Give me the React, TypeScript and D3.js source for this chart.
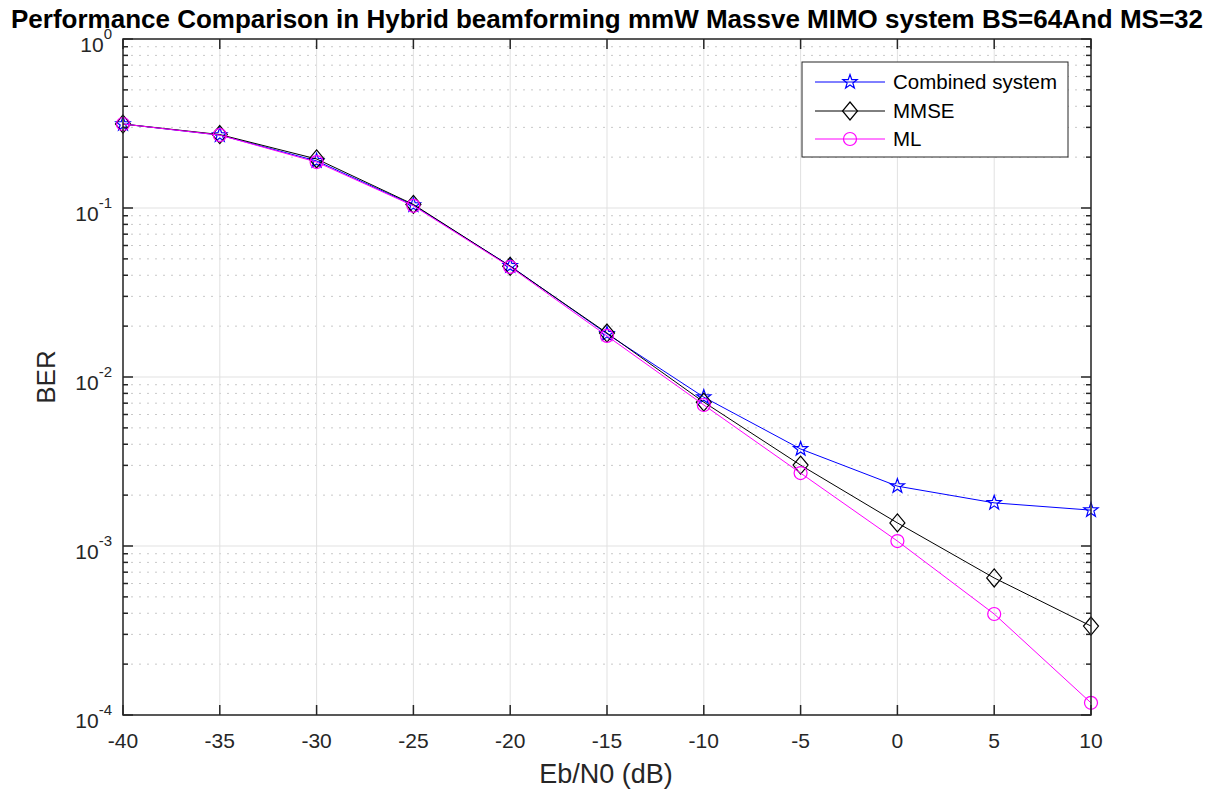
import React from "react";
import * as d3 from "d3";

const snr = [-40, -35, -30, -25, -20, -15, -10, -5, 0, 5, 10];
const combined = [0.314, 0.27, 0.19, 0.104, 0.0454, 0.018, 0.0076, 0.00375, 0.00226, 0.0018, 0.00163];
const mmse = [0.314, 0.272, 0.195, 0.105, 0.0452, 0.0182, 0.0071, 0.00301, 0.00137, 0.000647, 0.000336];
const ml = [0.314, 0.27, 0.187, 0.103, 0.0448, 0.0175, 0.00683, 0.0027, 0.00107, 0.000396, 0.000118];
const xTicks = [-40, -35, -30, -25, -20, -15, -10, -5, 0, 5, 10];
const yExps = [0, -1, -2, -3, -4];
const legendLabels = ["Combined system", "MMSE", "ML"];

const W = 1217, H = 790;
const L = 123, R = 1091, T = 39, B = 715;
const axisColor = "#262626";
const font = "'Liberation Sans', Arial, Helvetica, sans-serif";

function starPath(r: number) {
  const pts: string[] = [];
  const ri = r * 0.4;
  for (let i = 0; i < 10; i++) {
    const a = -Math.PI / 2 + (i * Math.PI) / 5;
    const rr = i % 2 === 0 ? r : ri;
    pts.push(`${(rr * Math.cos(a)).toFixed(2)},${(rr * Math.sin(a)).toFixed(2)}`);
  }
  return "M" + pts.join("L") + "Z";
}

function Marker({ kind, x, y }: { kind: string; x: number; y: number }) {
  if (kind === "star")
    return <path d={starPath(7.5)} transform={`translate(${x},${y})`} fill="none" stroke="#0000ff" strokeWidth={1.2} />;
  if (kind === "diamond")
    return <path d="M0,-9L7.5,0L0,9L-7.5,0Z" transform={`translate(${x},${y})`} fill="none" stroke="#000000" strokeWidth={1.2} />;
  return <circle cx={x} cy={y} r={6.5} fill="none" stroke="#ff00ff" strokeWidth={1.2} />;
}

export default function App() {
  const x = d3.scaleLinear().domain([-40, 10]).range([L, R]);
  const y = d3.scaleLog().domain([1e-4, 1]).range([B, T]);
  const series = [
    { name: legendLabels[0], data: combined, color: "#0000ff", marker: "star" },
    { name: legendLabels[1], data: mmse, color: "#000000", marker: "diamond" },
    { name: legendLabels[2], data: ml, color: "#ff00ff", marker: "circle" },
  ];
  const line = d3
    .line<number>()
    .x((_, i) => x(snr[i]))
    .y((d) => y(d));

  const minors: number[] = [];
  for (let e = -4; e < 0; e++) for (let m = 2; m <= 9; m++) minors.push(m * Math.pow(10, e));

  return (
    <svg width={W} height={H} style={{ position: "absolute", left: 0, top: 0, background: "#fff" }} fontFamily={font}>
      <rect x={0} y={0} width={W} height={H} fill="#fff" />
      <rect x={L} y={T} width={R - L} height={B - T} fill="#fff" />
      {/* minor grid */}
      {minors.map((v, i) => (
        <line key={"mg" + i} x1={L} x2={R} y1={y(v)} y2={y(v)} stroke="#c8c8c8" strokeWidth={1} strokeDasharray="2,6" />
      ))}
      {/* major grid */}
      {yExps.map((e) => (
        <line key={"yg" + e} x1={L} x2={R} y1={y(Math.pow(10, e))} y2={y(Math.pow(10, e))} stroke="#e1e1e1" strokeWidth={1} />
      ))}
      {xTicks.map((t) => (
        <line key={"xg" + t} x1={x(t)} x2={x(t)} y1={T} y2={B} stroke="#e1e1e1" strokeWidth={1} />
      ))}
      {/* series */}
      {series.map((s) => (
        <g key={s.name}>
          <path d={line(s.data) || ""} fill="none" stroke={s.color} strokeWidth={1} />
          {s.data.map((v, i) => (
            <Marker key={i} kind={s.marker} x={x(snr[i])} y={y(v)} />
          ))}
        </g>
      ))}
      {/* ticks */}
      {xTicks.map((t) => (
        <g key={"xt" + t}>
          <line x1={x(t)} x2={x(t)} y1={B} y2={B - 10} stroke={axisColor} strokeWidth={1.5} />
          <line x1={x(t)} x2={x(t)} y1={T} y2={T + 10} stroke={axisColor} strokeWidth={1.5} />
          <text x={x(t)} y={748} textAnchor="middle" fontSize={21} fill={axisColor}>
            {t}
          </text>
        </g>
      ))}
      {yExps.map((e) => (
        <g key={"yt" + e}>
          <line x1={L} x2={L + 10} y1={y(Math.pow(10, e))} y2={y(Math.pow(10, e))} stroke={axisColor} strokeWidth={1.5} />
          <line x1={R} x2={R - 10} y1={y(Math.pow(10, e))} y2={y(Math.pow(10, e))} stroke={axisColor} strokeWidth={1.5} />
          <text x={112} y={y(Math.pow(10, e)) + 13} textAnchor="end" fontSize={21} fill={axisColor}>
            10
            <tspan dy={-13} fontSize={15}>
              {e}
            </tspan>
          </text>
        </g>
      ))}
      {minors.map((v, i) => (
        <g key={"mt" + i}>
          <line x1={L} x2={L + 5} y1={y(v)} y2={y(v)} stroke={axisColor} strokeWidth={1.5} />
          <line x1={R} x2={R - 5} y1={y(v)} y2={y(v)} stroke={axisColor} strokeWidth={1.5} />
        </g>
      ))}
      <rect x={L} y={T} width={R - L} height={B - T} fill="none" stroke={axisColor} strokeWidth={1.5} />
      {/* labels */}
      <text x={607} y={28} textAnchor="middle" fontSize={26} fontWeight="bold" fill="#000">
        Performance Comparison in Hybrid beamforming mmW Massve MIMO system BS=64And MS=32
      </text>
      <text x={606} y={783} textAnchor="middle" fontSize={27} fill={axisColor}>
        Eb/N0 (dB)
      </text>
      <text transform={`translate(55,${(T + B) / 2}) rotate(-90)`} textAnchor="middle" fontSize={26} fill={axisColor}>
        BER
      </text>
      {/* legend */}
      <rect x={802} y={62} width={266} height={95} fill="#fff" stroke={axisColor} strokeWidth={1} />
      {series.map((s, i) => {
        const ly = [82, 111, 139][i];
        return (
          <g key={"lg" + i}>
            <line x1={815} x2={885} y1={ly} y2={ly} stroke={s.color} strokeWidth={1} />
            <Marker kind={s.marker} x={850} y={ly} />
            <text x={893} y={ly + 7} fontSize={20.5} fill="#000">
              {s.name}
            </text>
          </g>
        );
      })}
    </svg>
  );
}
